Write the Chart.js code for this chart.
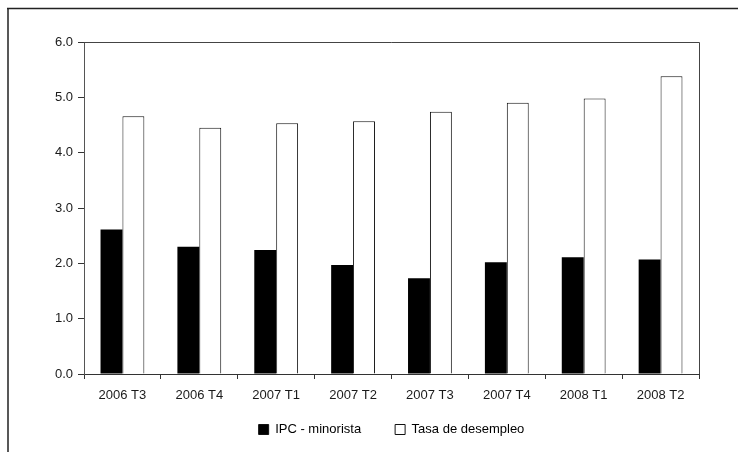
<!DOCTYPE html>
<html>
<head>
<meta charset="utf-8">
<script src="https://cdn.jsdelivr.net/npm/chart.js@4/dist/chart.umd.min.js"></script>
<style>
  html, body { margin: 0; padding: 0; background: #fff; }
  #wrap { width: 738px; height: 452px; position: relative; }
</style>
</head>
<body>
<div id="wrap"><canvas id="c" width="738" height="452"></canvas></div>
<script>
// Trimestres
const categories = ['2006 T3', '2006 T4', '2007 T1', '2007 T2', '2007 T3', '2007 T4', '2008 T1', '2008 T2'];
// IPC - minorista (%)
const ipcMinorista = [2.61, 2.30, 2.24, 1.97, 1.73, 2.02, 2.11, 2.07];
// Tasa de desempleo (%)
const tasaDesempleo = [4.66, 4.45, 4.53, 4.57, 4.74, 4.90, 4.98, 5.38];
// Marcas del eje vertical
const yTicks = [0, 1, 2, 3, 4, 5, 6];

const FONT = "'Liberation Sans', Arial, sans-serif";
const INK = '#1a1a1a';

// Marco exterior (línea superior e izquierda) y recuadro del área de trazado
const framePlugin = {
  id: 'frame',
  afterLayout(chart) {
    // acercar la leyenda al eje horizontal
    const lg = chart.legend;
    if (lg) { lg.top -= 14; lg.bottom -= 14; }
  },
  beforeDraw(chart) {
    const ctx = chart.ctx;
    ctx.save();
    ctx.fillStyle = '#fff';
    ctx.fillRect(0, 0, chart.width, chart.height);
    ctx.strokeStyle = '#222';
    ctx.lineWidth = 1.5;
    ctx.beginPath();
    ctx.moveTo(7, 8.5);
    ctx.lineTo(chart.width, 8.5);
    ctx.moveTo(8, 8);
    ctx.lineTo(8, chart.height);
    ctx.stroke();
    ctx.restore();
  },
  afterDatasetsDraw(chart) {
    const a = chart.chartArea;
    const ctx = chart.ctx;
    ctx.save();
    ctx.strokeStyle = '#444';
    ctx.lineWidth = 1;
    ctx.beginPath();
    ctx.moveTo(a.left, a.top + 0.5);
    ctx.lineTo(a.right + 0.5, a.top + 0.5);
    ctx.lineTo(a.right + 0.5, a.bottom);
    ctx.stroke();
    ctx.restore();
  }
};

new Chart(document.getElementById('c'), {
  type: 'bar',
  data: {
    labels: categories,
    datasets: [
      {
        label: 'IPC - minorista',
        data: ipcMinorista,
        backgroundColor: '#000',
        borderColor: '#000',
        borderWidth: 0,
        categoryPercentage: 0.57,
        barPercentage: 1.0
      },
      {
        label: 'Tasa de desempleo',
        data: tasaDesempleo,
        backgroundColor: '#fff',
        borderColor: '#111',
        borderWidth: 1,
        categoryPercentage: 0.57,
        barPercentage: 1.0
      }
    ]
  },
  options: {
    responsive: false,
    animation: false,
    devicePixelRatio: 1,
    layout: { padding: { top: 42, right: 39, left: 0, bottom: 0 } },
    plugins: {
      tooltip: { enabled: false },
      legend: {
        position: 'bottom',
        fullSize: false,
        maxHeight: 49,
        labels: {
          color: INK,
          font: { family: FONT, size: 13 },
          boxWidth: 10,
          boxHeight: 10,
          padding: 34,
          generateLabels(chart) {
            return chart.data.datasets.map((ds, i) => ({
              text: ds.label,
              fillStyle: ds.backgroundColor,
              strokeStyle: '#111',
              lineWidth: 1,
              hidden: false,
              datasetIndex: i
            }));
          }
        }
      }
    },
    scales: {
      x: {
        grid: {
          display: true,
          drawOnChartArea: false,
          drawTicks: true,
          tickLength: 5,
          color: '#333',
          offset: true
        },
        border: { display: true, color: '#333', width: 1 },
        ticks: {
          color: INK,
          font: { family: FONT, size: 13 },
          padding: 9,
          maxRotation: 0
        },
        afterFit(scale) { scale.height = 29; }
      },
      y: {
        min: 0,
        max: 6,
        afterBuildTicks(scale) { scale.ticks = yTicks.map(v => ({ value: v })); },
        grid: {
          display: true,
          drawOnChartArea: false,
          drawTicks: true,
          tickLength: 6,
          color: '#333'
        },
        border: { display: true, color: '#555', width: 1 },
        ticks: {
          color: INK,
          font: { family: FONT, size: 13 },
          padding: 5,
          callback: v => Number(v).toFixed(1)
        },
        afterFit(scale) { scale.width = 84; }
      }
    }
  },
  plugins: [framePlugin]
});
</script>
</body>
</html>
